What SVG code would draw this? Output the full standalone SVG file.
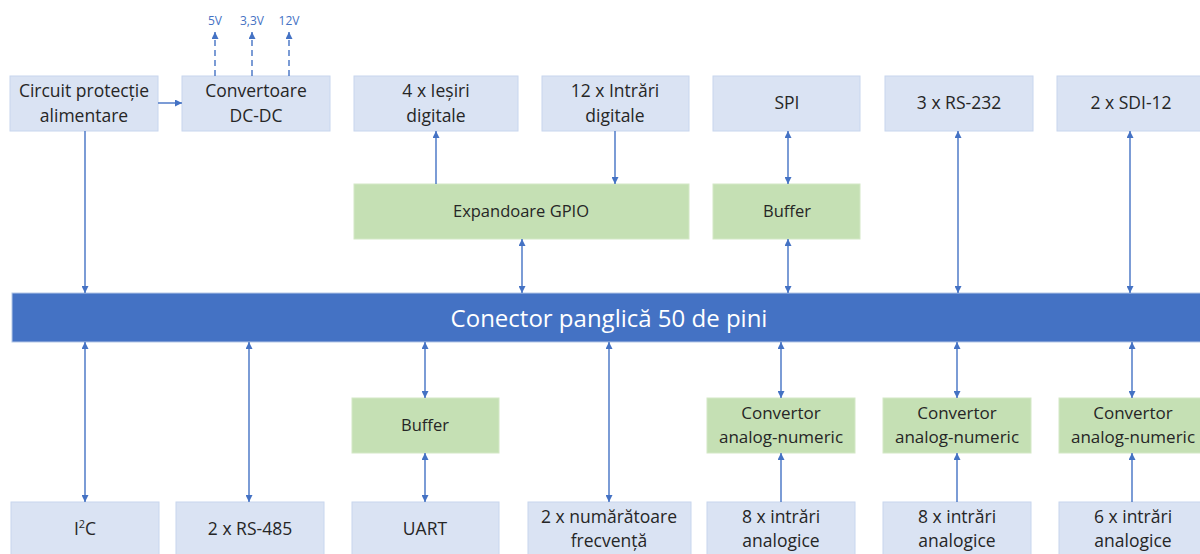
<svg xmlns="http://www.w3.org/2000/svg" width="1200" height="554" viewBox="0 0 1200 554">
<defs>
<marker id="ah" viewBox="0 0 10 10" refX="10" refY="5" markerWidth="8" markerHeight="7" markerUnits="userSpaceOnUse" orient="auto-start-reverse">
<path d="M0,0 L10,5 L0,10 z" fill="#4472C4"/>
</marker>
<style>
.b{fill:#DAE3F3;stroke:#C8D6EE;stroke-width:1}
.g{fill:#C5E0B4;stroke:#D3E8C6;stroke-width:1}
.t{font-family:"Open Sans","Liberation Sans",sans-serif;font-size:17.5px;fill:#262626;text-anchor:middle}
.tg{font-family:"Open Sans","Liberation Sans",sans-serif;font-size:16.5px;fill:#262626;text-anchor:middle}
.tc{font-family:"Open Sans","Liberation Sans",sans-serif;font-size:17px;fill:#262626;text-anchor:middle}
.v{font-family:"Open Sans","Liberation Sans",sans-serif;font-size:12px;fill:#4472C4;text-anchor:middle}
.c{stroke:#4472C4;stroke-width:1.4;fill:none}
.u{marker-end:url(#ah)}
.d{marker-start:url(#ah);marker-end:url(#ah)}
.dash{stroke-dasharray:6,4}
</style>
</defs>
<rect width="1200" height="554" fill="#fff"/>

<g id="bus">
<rect x="12" y="293" width="1200" height="49" fill="#4472C4" stroke="#B4C7E7" stroke-width="1"/>
<text x="609" y="327" font-family="Open Sans, Liberation Sans, sans-serif" font-size="24" fill="#fff" text-anchor="middle">Conector panglică 50 de pini</text>
</g>

<g id="n-circuit"><rect class="b" x="10" y="76" width="148" height="55"/><text class="t" x="84" y="97">Circuit protecție</text><text class="t" x="84" y="122">alimentare</text></g>
<g id="n-dcdc"><rect class="b" x="182" y="76" width="148" height="55"/><text class="t" x="256" y="97">Convertoare</text><text class="t" x="256" y="122">DC-DC</text></g>
<g id="n-iesiri"><rect class="b" x="354" y="76" width="164" height="55"/><text class="t" x="436" y="97">4 x Ieșiri</text><text class="t" x="436" y="122">digitale</text></g>
<g id="n-intrari"><rect class="b" x="542" y="76" width="147" height="55"/><text class="t" x="615" y="97">12 x Intrări</text><text class="t" x="615" y="122">digitale</text></g>
<g id="n-spi"><rect class="b" x="713" y="76" width="147" height="55"/><text class="t" x="787" y="109">SPI</text></g>
<g id="n-rs232"><rect class="b" x="885" y="76" width="148" height="55"/><text class="t" x="959" y="109">3 x RS-232</text></g>
<g id="n-sdi12"><rect class="b" x="1057" y="76" width="148" height="55"/><text class="t" x="1131" y="109">2 x SDI-12</text></g>

<g id="n-gpio"><rect class="g" x="354" y="184" width="335" height="55"/><text class="tg" x="521" y="217">Expandoare GPIO</text></g>
<g id="n-buf1"><rect class="g" x="713" y="184" width="147" height="55"/><text class="tg" x="787" y="217">Buffer</text></g>

<g id="n-buf2"><rect class="g" x="352" y="398" width="147" height="55"/><text class="tg" x="425" y="431">Buffer</text></g>
<g id="n-adc1"><rect class="g" x="707" y="398" width="148" height="55"/><text class="tc" x="781" y="419">Convertor</text><text class="tc" x="781" y="443">analog-numeric</text></g>
<g id="n-adc2"><rect class="g" x="883" y="398" width="148" height="55"/><text class="tc" x="957" y="419">Convertor</text><text class="tc" x="957" y="443">analog-numeric</text></g>
<g id="n-adc3"><rect class="g" x="1059" y="398" width="148" height="55"/><text class="tc" x="1133" y="419">Convertor</text><text class="tc" x="1133" y="443">analog-numeric</text></g>

<g id="n-i2c"><rect class="b" x="11" y="502" width="148" height="56"/><text class="t" x="85" y="535">I<tspan font-size="11" dy="-7">2</tspan><tspan dy="7">C</tspan></text></g>
<g id="n-rs485"><rect class="b" x="176" y="502" width="148" height="56"/><text class="t" x="250" y="535">2 x RS-485</text></g>
<g id="n-uart"><rect class="b" x="352" y="502" width="147" height="56"/><text class="t" x="425" y="535">UART</text></g>
<g id="n-num"><rect class="b" x="528" y="502" width="163" height="56"/><text class="t" x="609" y="523">2 x numărătoare</text><text class="t" x="609" y="547">frecvență</text></g>
<g id="n-ain1"><rect class="b" x="707" y="502" width="148" height="56"/><text class="t" x="781" y="523">8 x intrări</text><text class="t" x="781" y="547">analogice</text></g>
<g id="n-ain2"><rect class="b" x="883" y="502" width="148" height="56"/><text class="t" x="957" y="523">8 x intrări</text><text class="t" x="957" y="547">analogice</text></g>
<g id="n-ain3"><rect class="b" x="1059" y="502" width="148" height="56"/><text class="t" x="1133" y="523">6 x intrări</text><text class="t" x="1133" y="547">analogice</text></g>

<g id="labels">
<text class="v" x="215" y="25">5V</text>
<text class="v" x="252" y="25">3,3V</text>
<text class="v" x="289" y="25">12V</text>
</g>

<g id="connectors">
<line class="c u dash" x1="215" y1="76" x2="215" y2="32"/>
<line class="c u dash" x1="252" y1="76" x2="252" y2="32"/>
<line class="c u dash" x1="289" y1="76" x2="289" y2="32"/>
<line class="c u" x1="158" y1="103" x2="182" y2="103"/>
<line class="c u" x1="85" y1="131" x2="85" y2="293"/>
<line class="c u" x1="436" y1="184" x2="436" y2="131"/>
<line class="c u" x1="615" y1="131" x2="615" y2="184"/>
<line class="c d" x1="788" y1="131" x2="788" y2="184"/>
<line class="c d" x1="522" y1="239" x2="522" y2="293"/>
<line class="c d" x1="788" y1="239" x2="788" y2="293"/>
<line class="c d" x1="958" y1="131" x2="958" y2="293"/>
<line class="c d" x1="1130" y1="131" x2="1130" y2="293"/>

<line class="c d" x1="85" y1="342" x2="85" y2="502"/>
<line class="c d" x1="249" y1="342" x2="249" y2="502"/>
<line class="c d" x1="425" y1="342" x2="425" y2="398"/>
<line class="c d" x1="425" y1="453" x2="425" y2="502"/>
<line class="c d" x1="609" y1="342" x2="609" y2="502"/>
<line class="c d" x1="781" y1="342" x2="781" y2="398"/>
<line class="c d" x1="957" y1="342" x2="957" y2="398"/>
<line class="c d" x1="1132" y1="342" x2="1132" y2="398"/>
<line class="c u" x1="781" y1="502" x2="781" y2="453"/>
<line class="c u" x1="957" y1="502" x2="957" y2="453"/>
<line class="c u" x1="1132" y1="502" x2="1132" y2="453"/>
</g>
</svg>
